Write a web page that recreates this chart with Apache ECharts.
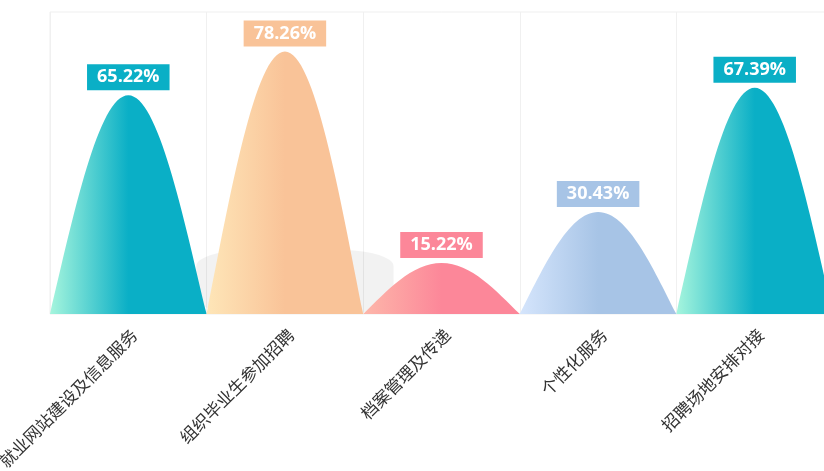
<!DOCTYPE html>
<html>
<head>
<meta charset="utf-8">
<script src="https://cdn.jsdelivr.net/npm/echarts@6/dist/echarts.min.js"></script>
<style>
html,body{margin:0;padding:0;overflow:hidden;background:#fff;width:824px;height:471px;}
#main{width:833px;height:471px;}
</style>
</head>
<body>
<div id="main"></div>
<script>
var categories = ['就业网站建设及信息服务', '组织毕业生参加招聘', '档案管理及传递', '个性化服务', '招聘场地安排对接'];
var values = [65.22, 78.26, 15.22, 30.43, 67.39];
var lightColors = ['#a6f5dd', '#fee6b8', '#fdb7aa', '#d5e5fc', '#a6f5dd'];
var darkColors = ['#0aafc6', '#f9c398', '#fc8799', '#a7c4e6', '#0aafc6'];
var shadowValues = ['-', 19, '-', '-', '-'];

var hill = 'path://M0,100 C15,55 31,0 50,0 C69,0 85,55 100,100 Z';

var chart = echarts.init(document.getElementById('main'));
var data = values.map(function (v, i) {
  return {
    value: v,
    itemStyle: {
      color: new echarts.graphic.LinearGradient(0, 0, 1, 0, [
        {offset: 0, color: lightColors[i]},
        {offset: 0.5, color: darkColors[i]},
        {offset: 1, color: darkColors[i]}
      ])
    },
    label: {backgroundColor: darkColors[i]}
  };
});

chart.setOption({
  animation: false,
  grid: {left: 50, right: 0, top: 12, bottom: 157, show: true, borderColor: '#efefef', borderWidth: 1,
         containLabel: false, outerBoundsMode: 'none'},
  xAxis: {
    type: 'category',
    data: categories,
    axisLine: {show: false},
    axisTick: {show: false},
    splitLine: {show: true, lineStyle: {color: '#f0f0f0'}},
    axisLabel: {
      rotate: 45,
      interval: 0,
      margin: 12,
      verticalAlign: 'top',
      color: '#333',
      fontSize: 17,
      fontFamily: 'Noto Sans CJK SC'
    }
  },
  yAxis: {
    type: 'value',
    min: 0,
    max: 90,
    show: false,
    splitLine: {show: false}
  },
  series: [
    {
      type: 'pictorialBar',
      silent: true,
      barGap: '-100%',
      barCategoryGap: '0%',
      symbol: 'roundRect',
      symbolSize: ['126%', '100%'],
      symbolOffset: [10, 0],
      z: 1,
      itemStyle: {color: 'rgba(0,0,0,0.05)', shadowBlur: 16, shadowColor: 'rgba(0,0,0,0.1)'},
      data: shadowValues
    },
    {
      type: 'pictorialBar',
      barGap: '-100%',
      barCategoryGap: '0%',
      symbol: hill,
      symbolSize: ['100%', '100%'],
      z: 2,
      label: {
        show: true,
        position: 'top',
        distance: 5,
        formatter: '{c}%',
        color: '#fff',
        fontSize: 18,
        fontWeight: 'bold',
        fontFamily: 'Open Sans',
        padding: [4, 10]
      },
      data: data
    }
  ]
});
</script>
</body>
</html>
